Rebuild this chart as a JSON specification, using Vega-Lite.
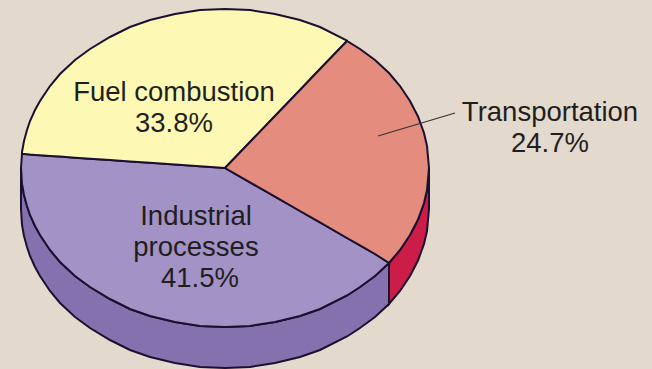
{
"$schema":"https://vega.github.io/schema/vega-lite/v6.json",
"width":652,"height":369,"padding":0,"autosize":{"type":"none"},
"background":"#e3d9cc",
"config":{"view":{"stroke":null}},
"datasets":{
"wall":[
{"part":"Industrial wall","x":21,"top":168,"bottom":209},{"part":"Industrial wall","x":22,"top":184,"bottom":225},{"part":"Industrial wall","x":24,"top":195,"bottom":236},{"part":"Industrial wall","x":27,"top":206,"bottom":247},{"part":"Industrial wall","x":30,"top":215,"bottom":256},{"part":"Industrial wall","x":35,"top":226,"bottom":267},{"part":"Industrial wall","x":40,"top":235,"bottom":276},{"part":"Industrial wall","x":50,"top":250,"bottom":291},{"part":"Industrial wall","x":60,"top":262,"bottom":303},{"part":"Industrial wall","x":75,"top":276,"bottom":317},{"part":"Industrial wall","x":90,"top":287,"bottom":328},{"part":"Industrial wall","x":110,"top":299,"bottom":340},{"part":"Industrial wall","x":130,"top":309,"bottom":350},{"part":"Industrial wall","x":150,"top":316,"bottom":357},{"part":"Industrial wall","x":175,"top":322,"bottom":363},{"part":"Industrial wall","x":200,"top":326,"bottom":367},{"part":"Industrial wall","x":225,"top":327,"bottom":368},{"part":"Industrial wall","x":250,"top":326,"bottom":367},{"part":"Industrial wall","x":275,"top":322,"bottom":363},{"part":"Industrial wall","x":300,"top":316,"bottom":357},{"part":"Industrial wall","x":320,"top":309,"bottom":350},{"part":"Industrial wall","x":347,"top":295.5,"bottom":336.5},{"part":"Industrial wall","x":360,"top":287,"bottom":328},{"part":"Industrial wall","x":375,"top":276,"bottom":317},{"part":"Industrial wall","x":389,"top":263,"bottom":304},
{"part":"Transportation wall","x":389,"top":263,"bottom":304},{"part":"Transportation wall","x":400,"top":250,"bottom":291},{"part":"Transportation wall","x":410,"top":235,"bottom":276},{"part":"Transportation wall","x":418,"top":219.5,"bottom":260.5},{"part":"Transportation wall","x":424,"top":203,"bottom":244},{"part":"Transportation wall","x":427,"top":190,"bottom":231},{"part":"Transportation wall","x":429,"top":168,"bottom":209}
],
"slices":[
{"part":"Industrial processes","x":21,"top":168,"bottom":168},{"part":"Industrial processes","x":22,"top":154,"bottom":184},{"part":"Industrial processes","x":24,"top":154.1,"bottom":195},{"part":"Industrial processes","x":27,"top":154.3,"bottom":206},{"part":"Industrial processes","x":30,"top":154.6,"bottom":215},{"part":"Industrial processes","x":35,"top":154.9,"bottom":226},{"part":"Industrial processes","x":40,"top":155.2,"bottom":235},{"part":"Industrial processes","x":50,"top":155.9,"bottom":250},{"part":"Industrial processes","x":60,"top":156.6,"bottom":262},{"part":"Industrial processes","x":75,"top":157.7,"bottom":276},{"part":"Industrial processes","x":90,"top":158.7,"bottom":287},{"part":"Industrial processes","x":110,"top":160.1,"bottom":299},{"part":"Industrial processes","x":130,"top":161.4,"bottom":309},{"part":"Industrial processes","x":150,"top":162.8,"bottom":316},{"part":"Industrial processes","x":175,"top":164.6,"bottom":322},{"part":"Industrial processes","x":200,"top":166.3,"bottom":326},{"part":"Industrial processes","x":225,"top":168,"bottom":327},{"part":"Industrial processes","x":250,"top":182.3,"bottom":326},{"part":"Industrial processes","x":275,"top":196.7,"bottom":322},{"part":"Industrial processes","x":300,"top":211,"bottom":316},{"part":"Industrial processes","x":320,"top":222.4,"bottom":309},{"part":"Industrial processes","x":347,"top":238,"bottom":295.5},{"part":"Industrial processes","x":360,"top":245.4,"bottom":287},{"part":"Industrial processes","x":375,"top":254,"bottom":276},{"part":"Industrial processes","x":389,"top":263,"bottom":263},
{"part":"Fuel combustion","x":22,"top":152,"bottom":154},{"part":"Fuel combustion","x":24,"top":141,"bottom":154.1},{"part":"Fuel combustion","x":27,"top":130,"bottom":154.3},{"part":"Fuel combustion","x":30,"top":121,"bottom":154.6},{"part":"Fuel combustion","x":35,"top":110,"bottom":154.9},{"part":"Fuel combustion","x":40,"top":101,"bottom":155.2},{"part":"Fuel combustion","x":50,"top":86,"bottom":155.9},{"part":"Fuel combustion","x":60,"top":74,"bottom":156.6},{"part":"Fuel combustion","x":75,"top":60,"bottom":157.7},{"part":"Fuel combustion","x":90,"top":49,"bottom":158.7},{"part":"Fuel combustion","x":110,"top":37,"bottom":160.1},{"part":"Fuel combustion","x":130,"top":27,"bottom":161.4},{"part":"Fuel combustion","x":150,"top":20,"bottom":162.8},{"part":"Fuel combustion","x":175,"top":14,"bottom":164.6},{"part":"Fuel combustion","x":200,"top":10,"bottom":166.3},{"part":"Fuel combustion","x":225,"top":9,"bottom":168},{"part":"Fuel combustion","x":250,"top":10,"bottom":142},{"part":"Fuel combustion","x":275,"top":14,"bottom":116},{"part":"Fuel combustion","x":300,"top":20,"bottom":90},{"part":"Fuel combustion","x":320,"top":27,"bottom":69},{"part":"Fuel combustion","x":347,"top":40.5,"bottom":41},
{"part":"Transportation","x":225,"top":168,"bottom":168},{"part":"Transportation","x":250,"top":142,"bottom":182.3},{"part":"Transportation","x":275,"top":116,"bottom":196.7},{"part":"Transportation","x":300,"top":90,"bottom":211},{"part":"Transportation","x":320,"top":69,"bottom":222.4},{"part":"Transportation","x":347,"top":41,"bottom":238},{"part":"Transportation","x":360,"top":49,"bottom":245.4},{"part":"Transportation","x":375,"top":60,"bottom":254},{"part":"Transportation","x":389,"top":73,"bottom":263},{"part":"Transportation","x":400,"top":86,"bottom":250},{"part":"Transportation","x":410,"top":101,"bottom":235},{"part":"Transportation","x":418,"top":116.5,"bottom":219.5},{"part":"Transportation","x":424,"top":133,"bottom":203},{"part":"Transportation","x":427,"top":146,"bottom":190},{"part":"Transportation","x":429,"top":168,"bottom":168}
],
"labels":[
{"text":"Fuel combustion","x":174,"y":93},{"text":"33.8%","x":174,"y":124},
{"text":"Industrial","x":196,"y":217},{"text":"processes","x":196,"y":248},{"text":"41.5%","x":200,"y":279},
{"text":"Transportation","x":550,"y":113},{"text":"24.7%","x":550,"y":144}
],
"leader":[{"x":378,"y":136,"x2":455,"y2":113}]
},
"layer":[
{"data":{"name":"wall"},
"mark":{"type":"area","stroke":"#1c1030","strokeWidth":2,"fillOpacity":1},
"encoding":{
"x":{"field":"x","type":"quantitative","scale":{"domain":[0,652],"nice":false,"zero":false},"axis":null},
"y":{"field":"top","type":"quantitative","scale":{"domain":[369,0],"nice":false,"zero":false},"axis":null,"stack":null},
"y2":{"field":"bottom"},
"color":{"field":"part","type":"nominal","legend":null,"scale":{"domain":["Industrial wall","Transportation wall","Industrial processes","Fuel combustion","Transportation"],"range":["#8471ae","#cc1c48","#a392c6","#fdf8b4","#e48c7e"]}}
}},
{"data":{"name":"slices"},
"mark":{"type":"area","stroke":"#1c1030","strokeWidth":2,"fillOpacity":1},
"encoding":{
"x":{"field":"x","type":"quantitative","scale":{"domain":[0,652],"nice":false,"zero":false},"axis":null},
"y":{"field":"top","type":"quantitative","scale":{"domain":[369,0],"nice":false,"zero":false},"axis":null,"stack":null},
"y2":{"field":"bottom"},
"color":{"field":"part","type":"nominal","legend":null,"scale":{"domain":["Industrial wall","Transportation wall","Industrial processes","Fuel combustion","Transportation"],"range":["#8471ae","#cc1c48","#a392c6","#fdf8b4","#e48c7e"]}}
}},
{"data":{"name":"leader"},
"mark":{"type":"rule","stroke":"#333333","strokeWidth":1.2},
"encoding":{
"x":{"field":"x","type":"quantitative","scale":{"domain":[0,652],"nice":false,"zero":false},"axis":null},
"y":{"field":"y","type":"quantitative","scale":{"domain":[369,0],"nice":false,"zero":false},"axis":null},
"x2":{"field":"x2"},"y2":{"field":"y2"}
}},
{"data":{"name":"labels"},
"mark":{"type":"text","font":"Liberation Sans","fontSize":27.5,"fill":"#1f1f1f","align":"center","baseline":"middle"},
"encoding":{
"x":{"field":"x","type":"quantitative","scale":{"domain":[0,652],"nice":false,"zero":false},"axis":null},
"y":{"field":"y","type":"quantitative","scale":{"domain":[369,0],"nice":false,"zero":false},"axis":null},
"text":{"field":"text"}
}}
]
}
